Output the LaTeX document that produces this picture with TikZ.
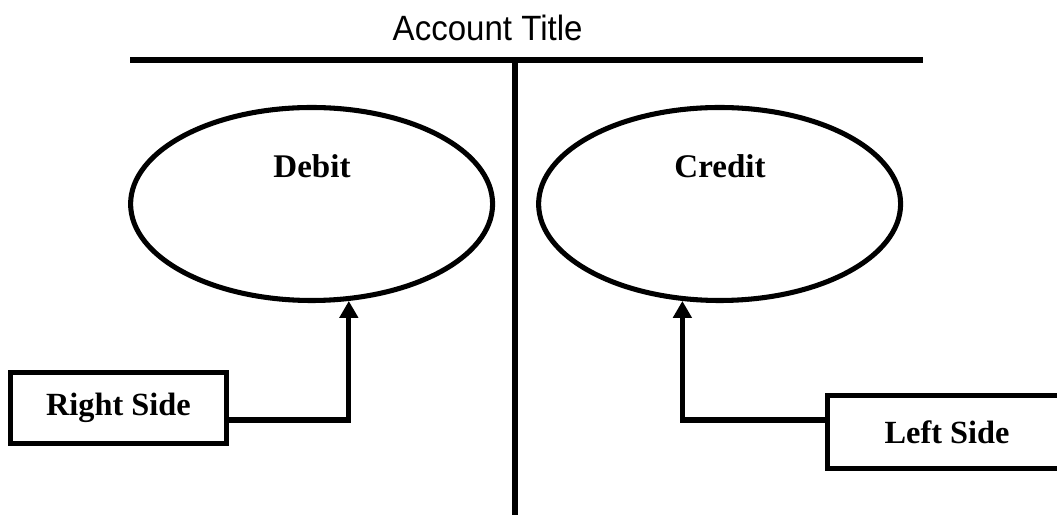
\documentclass[tikz,border=0pt]{standalone}
\usepackage{fontspec}
\setmainfont{Liberation Serif}
\newfontfamily\titlefont{Liberation Sans}
\usetikzlibrary{shapes.geometric, arrows.meta}

\tikzset{
  side/.style={ellipse, draw, line width=3.6pt, minimum width=9.05cm, minimum height=4.825cm, inner sep=0pt},
  sidelbl/.style={font=\fontsize{23.5}{28}\selectfont\bfseries},
  sidebox/.style={rectangle, draw, line width=3.6pt, inner sep=0pt, font=\fontsize{23}{27}\selectfont\bfseries},
  pointer/.style={line width=3.6pt, -{Triangle[length=0.42cm, width=0.45cm]}},
  tline/.style={line width=4.3pt}
}

\begin{document}
\begin{tikzpicture}
\useasboundingbox (0,0) rectangle (26.425,12.85);
\clip (0,0) rectangle (26.425,12.85);

% T account
\node[font=\titlefont\fontsize{25}{29}\selectfont, xscale=0.94] (title) at (12.19,12.16) {Account Title};
\draw[tline] (3.25,11.35) -- (23.075,11.35);
\draw[tline] (12.875,11.35) -- (12.875,-0.2);

% Debit side
\node[side] (debit) at (7.79,7.75) {};
\node[sidelbl] (debitlbl) at (7.8,8.7) {Debit};

% Credit side
\node[side] (credit) at (17.99,7.75) {};
\node[sidelbl] (creditlbl) at (18.0,8.7) {Credit};

% Boxes
\node[sidebox, minimum width=5.4cm, minimum height=1.775cm] (rbox) at (2.96,2.65) {Right Side};
\node[sidebox, minimum width=5.975cm, minimum height=1.825cm] (lbox) at (23.675,2.05) {Left Side};

% Arrows
\draw[pointer] ([yshift=-0.3cm]rbox.east) -| (debit.-69);
\draw[pointer] ([yshift=0.3cm]lbox.west) -| (credit.-111);
\end{tikzpicture}
\end{document}
